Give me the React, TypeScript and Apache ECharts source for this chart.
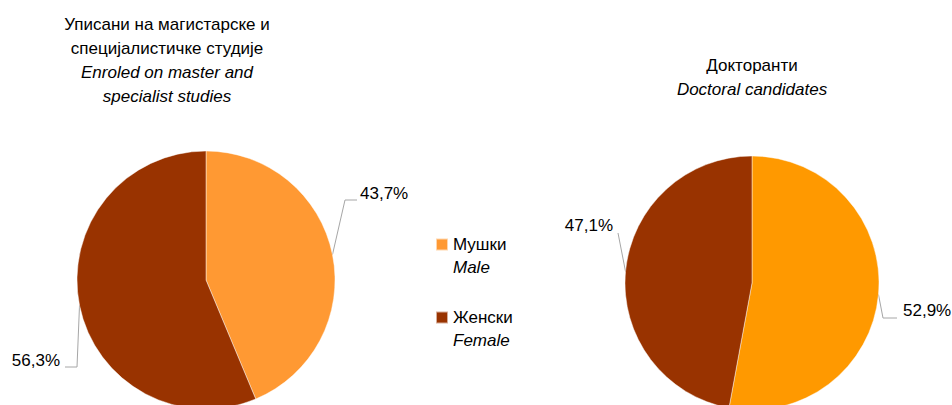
import React, { useEffect, useRef } from "react";
import * as echarts from "echarts";

const categories = ["Мушки", "Женски"];
const categoriesEn = ["Male", "Female"];
const masterValues = [43.7, 56.3];
const doctoralValues = [52.9, 47.1];
const masterTitle = ["Уписани на магистарске и", "специјалистичке студије"];
const masterTitleEn = ["Enroled on master and", "specialist studies"];
const doctoralTitle = ["Докторанти"];
const doctoralTitleEn = ["Doctoral candidates"];

const FONT = "'Liberation Sans', Arial, sans-serif";
const FS = 17;

const PIES = [
  { values: masterValues, cx: 206, cy: 280, r: 129, colors: ["#FF9933", "#993300"] },
  { values: doctoralValues, cx: 752, cy: 283, r: 127, colors: ["#FF9900", "#993300"] },
];

// label placement relative to pie centre: [dx, dy, align, bend dx, bend dy, end dx, end dy]
const LABEL_POS: any[][] = [
  [
    [154, -87, "left", 139, -80, 151, -80],
    [-146, 80, "right", -129, 87, -141, 87],
  ],
  [
    [151, 27.5, "left", 131, 35, 145, 35],
    [-139, -57.5, "right", -134, -50, -134, -50],
  ],
];

export default function App() {
  const ref = useRef<HTMLDivElement>(null);
  useEffect(() => {
    if (!ref.current) return;
    const chart = echarts.init(ref.current, null, { renderer: "svg" });
    const fmt = (p: any) => p.value.toFixed(1).replace(".", ",") + "%";

    const series = PIES.map((pie, si) => ({
      type: "pie",
      center: [pie.cx, pie.cy],
      radius: pie.r,
      startAngle: 90,
      clockwise: true,
      silent: true,
      avoidLabelOverlap: false,
      data: categories.map((c, i) => ({
        name: c,
        value: pie.values[i],
        itemStyle: { color: pie.colors[i] },
      })),
      itemStyle: { borderColor: "rgba(255,255,255,0.6)", borderWidth: 0.75 },
      label: {
        show: true,
        position: "outside",
        formatter: fmt,
        fontFamily: FONT,
        fontSize: FS,
        color: "#000",
        overflow: "none",
      },
      labelLine: { show: true, lineStyle: { color: "#A6A6A6", width: 1 } },
      labelLayout: (params: any) => {
        const d = params.dataIndex;
        const vals = pie.values;
        const total = vals.reduce((a, b) => a + b, 0);
        let before = 0;
        for (let k = 0; k < d; k++) before += vals[k];
        const theta = ((before + vals[d] / 2) / total) * Math.PI * 2;
        const ex = pie.cx + pie.r * Math.sin(theta);
        const ey = pie.cy - pie.r * Math.cos(theta);
        const L = LABEL_POS[si][d];
        return {
          x: pie.cx + L[0],
          y: pie.cy + L[1],
          align: L[2],
          verticalAlign: "middle",
          labelLinePoints: [
            [ex, ey],
            [pie.cx + L[3], pie.cy + L[4]],
            [pie.cx + L[5], pie.cy + L[6]],
          ],
        };
      },
    }));

    const legendItem = (i: number, top: number) => ({
      data: [categories[i]],
      left: 435,
      top,
      padding: 0,
      orient: "vertical",
      icon: "rect",
      itemWidth: 12,
      itemHeight: 12,
      itemGap: 0,
      selectedMode: false,
      formatter: (name: string) => `${name}\n{i|${categoriesEn[categories.indexOf(name)]}}`,
      textStyle: {
        fontFamily: FONT,
        fontSize: FS,
        lineHeight: 23,
        color: "#000",
        padding: [23, 0, 0, 0],
        rich: { i: { fontFamily: FONT, fontSize: FS, lineHeight: 23, fontStyle: "italic", color: "#000" } },
      },
    });

    const titleStyle = { fontFamily: FONT, fontSize: FS, fontWeight: "normal", color: "#000", lineHeight: 24 };
    const subStyle = { fontFamily: FONT, fontSize: FS, fontStyle: "italic", color: "#000", lineHeight: 24 };

    chart.setOption({
      animation: false,
      title: [
        {
          text: masterTitle.join("\n"),
          subtext: masterTitleEn.join("\n"),
          left: 167,
          top: 12,
          textAlign: "center",
          padding: 0,
          itemGap: 0,
          textStyle: titleStyle,
          subtextStyle: subStyle,
        },
        {
          text: doctoralTitle.join("\n"),
          subtext: doctoralTitleEn.join("\n"),
          left: 752,
          top: 53,
          textAlign: "center",
          padding: 0,
          itemGap: 0,
          textStyle: titleStyle,
          subtextStyle: subStyle,
        },
      ],
      legend: [legendItem(0, 210), legendItem(1, 283)],
      series,
    });
    return () => chart.dispose();
  }, []);
  return (
    <div
      ref={ref}
      style={{ position: "absolute", left: 0, top: 0, width: 952, height: 405, background: "#fff" }}
    />
  );
}
